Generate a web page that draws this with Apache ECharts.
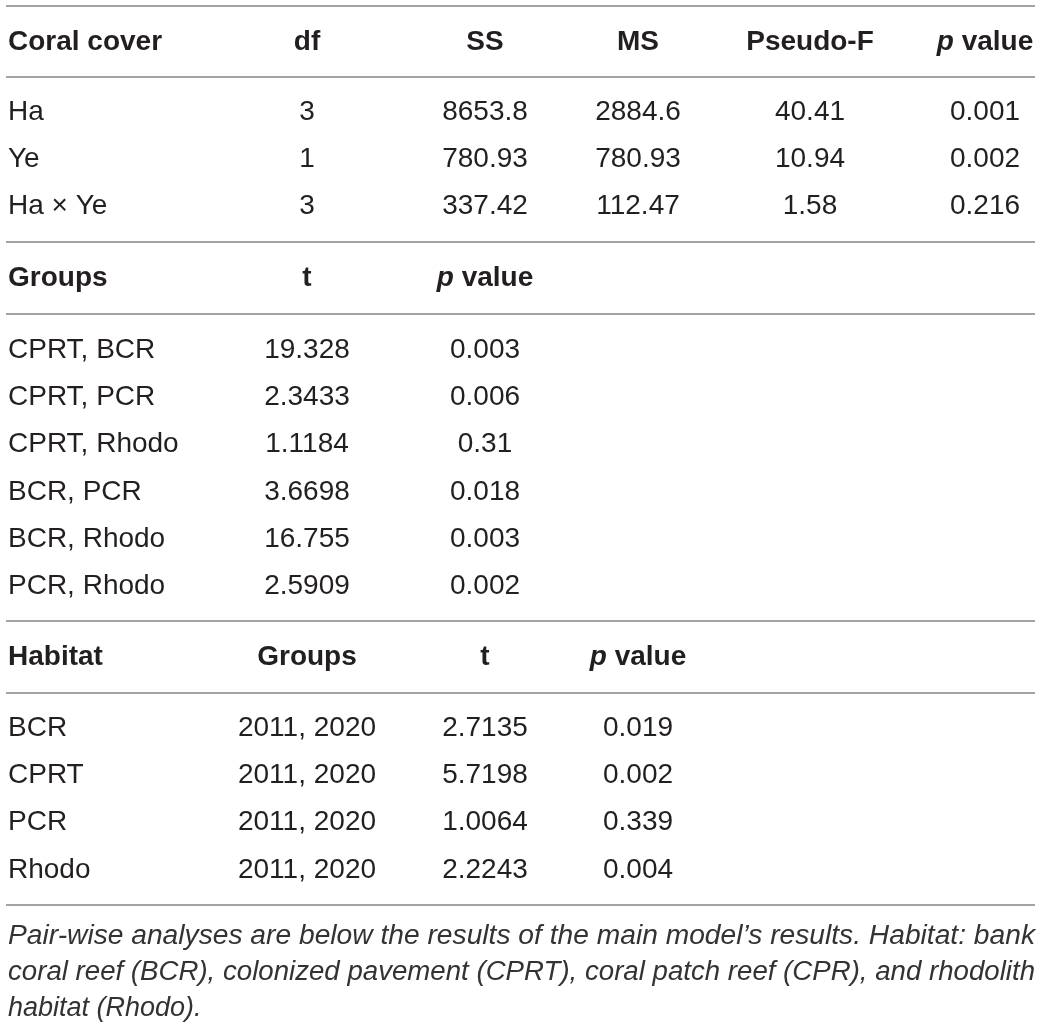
<!DOCTYPE html>
<html>
<head>
    <meta charset="utf-8">
    <title>Coral cover PERMANOVA</title>
    <script src="https://cdn.jsdelivr.net/npm/echarts@6/dist/echarts.min.js"></script>
    <style>
        html, body { margin: 0; padding: 0; background: #fff; }
    </style>
</head>
<body>
    <div id="main" style="width: 1041px;height:1029px;"></div>
    <script type="text/javascript">
        // table content
        var anovaHeader = ['Coral cover', 'df', 'SS', 'MS', 'Pseudo-F', '{i|p} value'];
        var anovaRows = [
            ['Ha', '3', '8653.8', '2884.6', '40.41', '0.001'],
            ['Ye', '1', '780.93', '780.93', '10.94', '0.002'],
            ['Ha \u00d7 Ye', '3', '337.42', '112.47', '1.58', '0.216']
        ];
        var pairHeader = ['Groups', 't', '{i|p} value'];
        var pairRows = [
            ['CPRT, BCR', '19.328', '0.003'],
            ['CPRT, PCR', '2.3433', '0.006'],
            ['CPRT, Rhodo', '1.1184', '0.31'],
            ['BCR, PCR', '3.6698', '0.018'],
            ['BCR, Rhodo', '16.755', '0.003'],
            ['PCR, Rhodo', '2.5909', '0.002']
        ];
        var habitatHeader = ['Habitat', 'Groups', 't', '{i|p} value'];
        var habitatRows = [
            ['BCR', '2011, 2020', '2.7135', '0.019'],
            ['CPRT', '2011, 2020', '5.7198', '0.002'],
            ['PCR', '2011, 2020', '1.0064', '0.339'],
            ['Rhodo', '2011, 2020', '2.2243', '0.004']
        ];
        var captionLines = [
            'Pair-wise analyses are below the results of the main model\u2019s results. Habitat: bank',
            'coral reef (BCR), colonized pavement (CPRT), coral patch reef (CPR), and rhodolith',
            'habitat (Rhodo).'
        ];

        // layout (pixel space of the grid)
        var FONT = "'Liberation Sans', Arial, Helvetica, sans-serif";
        var colX = [8, 307, 485, 638, 810, 985];
        var rowStep = 47.3;
        var sections = [
            { header: anovaHeader, rows: anovaRows, headerY: 42, firstRowY: 112 },
            { header: pairHeader, rows: pairRows, headerY: 278, firstRowY: 350 },
            { header: habitatHeader, rows: habitatRows, headerY: 657, firstRowY: 728 }
        ];
        var ruleY = [6, 77, 242, 314, 621, 693, 905];
        var ruleX = [6, 1035];
        var captionY = [936, 972, 1008];

        var cells = [];
        sections.forEach(function (s) {
            s.header.forEach(function (txt, c) {
                cells.push([colX[c], s.headerY, txt, c === 0 ? 'left' : 'center', 1]);
            });
            s.rows.forEach(function (row, r) {
                row.forEach(function (txt, c) {
                    cells.push([colX[c], s.firstRowY + r * rowStep, txt, c === 0 ? 'left' : 'center', 0]);
                });
            });
        });
        var rules = ruleY.map(function (y) { return [ruleX[0], y, ruleX[1], y]; });
        var captions = captionLines.map(function (t, i) { return [colX[0], captionY[i], t, i < 2 ? 1 : 0]; });

        var myChart = echarts.init(document.getElementById('main'));
        var option = {
            animation: false,
            grid: { left: 0, right: 0, top: 0, bottom: 0 },
            xAxis: { type: 'value', min: 0, max: 1041, show: false },
            yAxis: { type: 'value', min: 0, max: 1029, inverse: true, show: false },
            series: [
            {
                type: 'custom',
                name: 'rules',
                data: rules,
                renderItem: function (params, api) {
                    var a = api.coord([api.value(0), api.value(1)]);
                    var b = api.coord([api.value(2), api.value(3)]);
                    return {
                        type: 'line',
                        shape: { x1: a[0], y1: a[1], x2: b[0], y2: b[1] },
                        style: { stroke: '#a3a3a3', lineWidth: 2 }
                    };
                }
            },
            {
                type: 'custom',
                name: 'cells',
                data: cells,
                encode: { x: 0, y: 1 },
                renderItem: function (params, api) {
                    var d = cells[params.dataIndex];
                    var p = api.coord([d[0], d[1]]);
                    var bold = d[4] === 1;
                    return {
                        type: 'text',
                        x: p[0],
                        y: p[1],
                        style: {
                            text: d[2],
                            align: d[3],
                            verticalAlign: 'middle',
                            fontFamily: FONT,
                            fontSize: 28,
                            fontWeight: bold ? 'bold' : 'normal',
                            fill: '#231f20',
                            rich: {
                                i: {
                                    fontFamily: FONT,
                                    fontSize: 28,
                                    fontWeight: 'bold',
                                    fontStyle: 'italic',
                                    fill: '#231f20'
                                }
                            }
                        }
                    };
                }
            },
            {
                type: 'custom',
                name: 'caption',
                data: captions,
                encode: { x: 0, y: 1 },
                renderItem: function (params, api) {
                    var d = captions[params.dataIndex];
                    var p = api.coord([d[0], d[1]]);
                    var justify = d[3] === 1;
                    var width = api.coord([ruleX[1], 0])[0] - p[0];
                    var el = {
                        type: 'text',
                        x: p[0],
                        y: p[1],
                        style: {
                            text: d[2],
                            align: 'left',
                            verticalAlign: 'middle',
                            fontFamily: FONT,
                            fontSize: 27,
                            fontStyle: 'italic',
                            fill: '#333333'
                        }
                    };
                    if (justify) {
                        // stretch the line to the full table width, as the justified original
                        var w = echarts.format.getTextRect
                            ? echarts.format.getTextRect(d[2], "italic 27px " + FONT).width
                            : width;
                        el.scaleX = width / w;
                    }
                    return el;
                }
            }
            ]
        };
        myChart.setOption(option);
    </script>
</body>
</html>
